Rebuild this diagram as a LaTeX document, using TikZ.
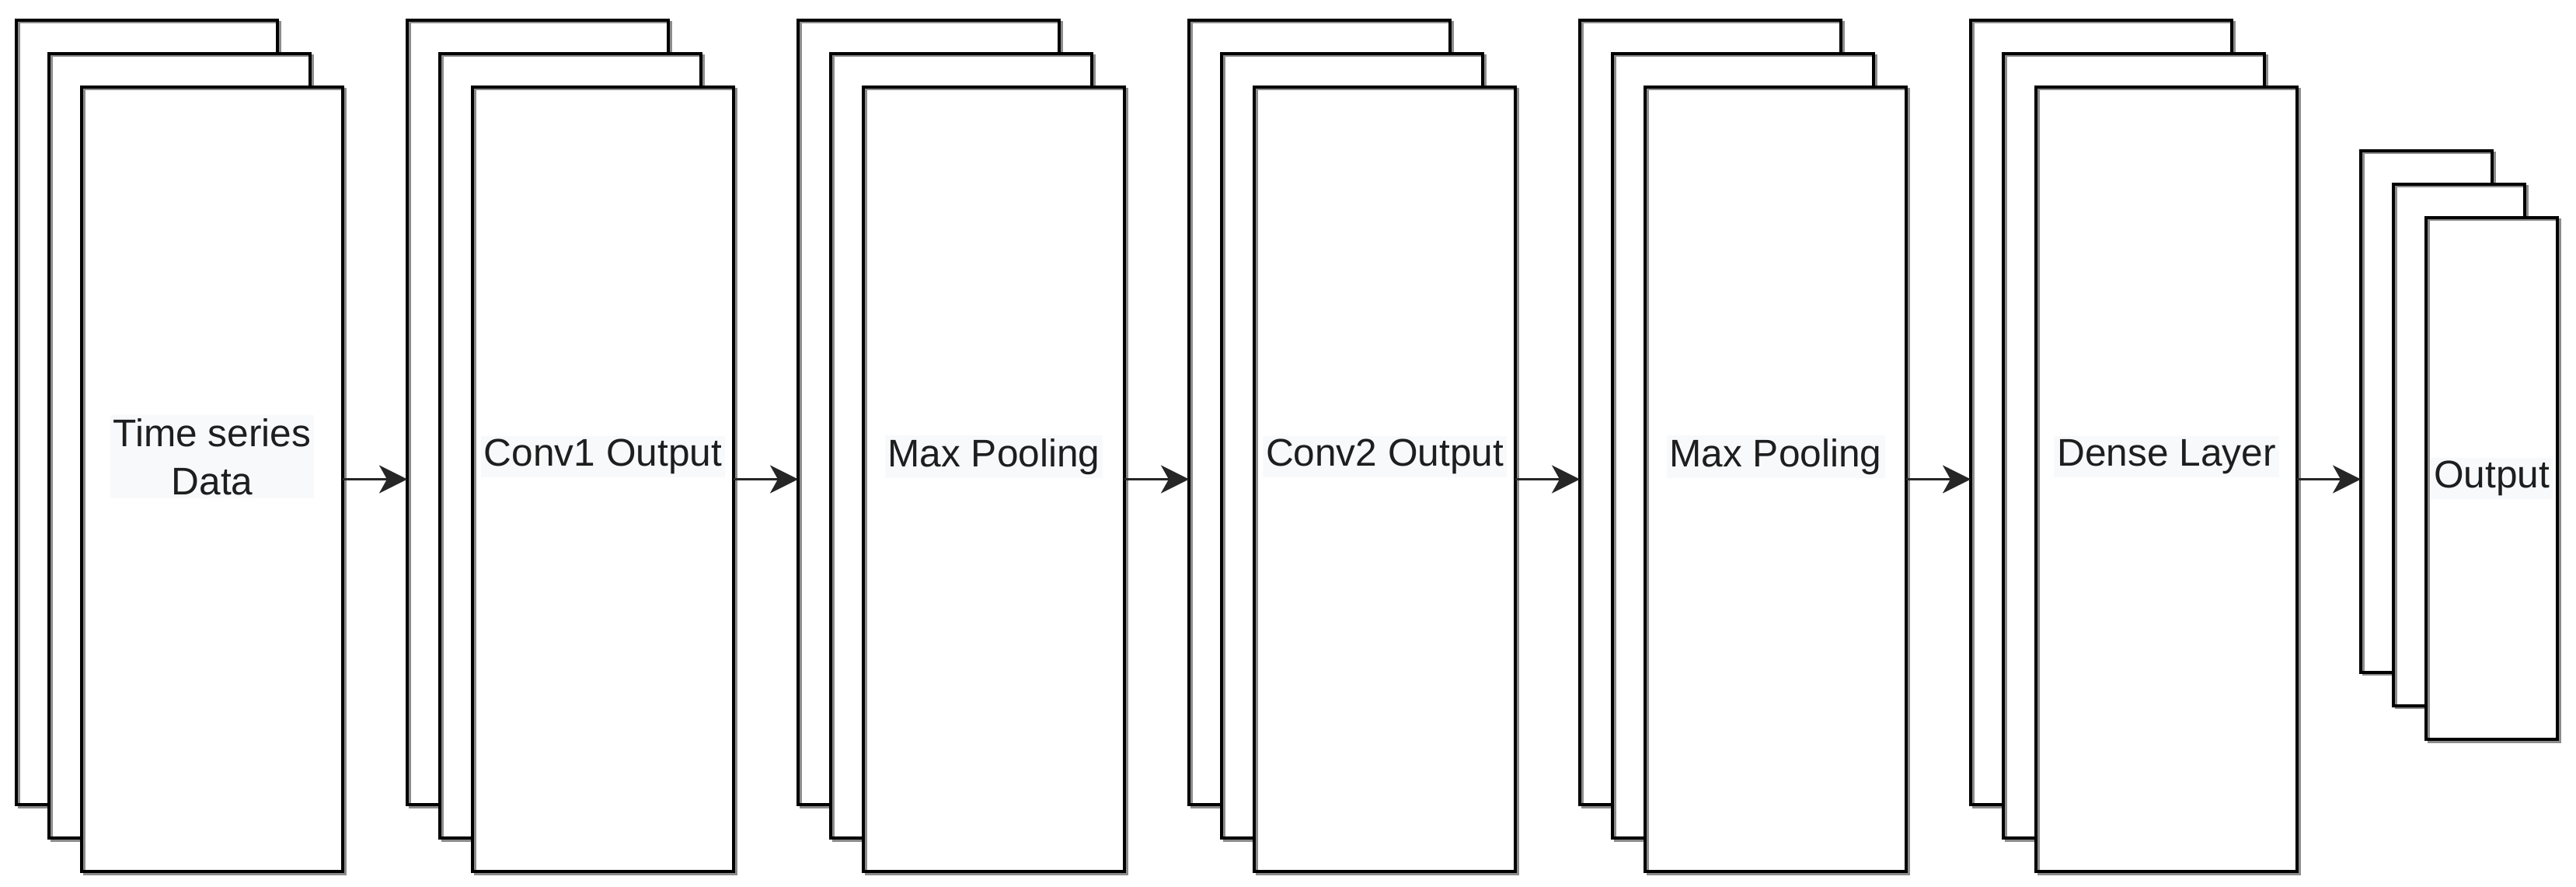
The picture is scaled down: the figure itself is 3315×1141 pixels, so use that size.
\documentclass[tikz,border=0pt]{standalone}
\usepackage{fontspec}
\setmainfont{Liberation Sans}
\usetikzlibrary{arrows.meta}
\definecolor{txtbg}{RGB}{248,249,250}
\definecolor{txtfg}{RGB}{30,30,30}
\tikzset{
  layer/.style={rectangle, inner sep=0pt, outer sep=0pt,
    preaction={fill=white},
    preaction={draw=black!45, line width=0.75pt, transform canvas={shift={(0.75pt,-0.75pt)}}},
    draw=black, line width=1pt},
  bigl/.style={layer, minimum width=84pt, minimum height=252.25pt},
  smalll/.style={layer, minimum width=42.25pt, minimum height=167.75pt},
  lbl/.style={font=\fontsize{12.4}{15.6}\selectfont, text=txtfg, fill=txtbg, inner sep=1pt, align=center},
  conn/.style={-{Stealth[length=9pt, width=9pt, inset=2.5pt]}, line width=0.8pt, draw=black!85}
}
\begin{document}
\begin{tikzpicture}[x=0.25pt, y=-0.25pt]
\useasboundingbox (0,0) rectangle (3315,1141);
% stacks
\foreach \i/\L in {1/21, 2/524, 3/1027, 4/1530, 5/2033, 6/2536} {
  \node[bigl, anchor=north west] (a\i) at (\L,26) {};
  \node[bigl, anchor=north west] (b\i) at (\L+42,69) {};
  \node[bigl, anchor=north west] (s\i) at (\L+84,112) {};
}
% output stack
\node[smalll, anchor=north west] (oa) at (3038,194) {};
\node[smalll, anchor=north west] (ob) at (3080,237) {};
\node[smalll, anchor=north west] (os) at (3122,280) {};
% labels
\node[lbl] (t1) at ([yshift=7.25pt]s1.center) {Time series\\Data};
\node[lbl] (t2) at ([yshift=7.25pt]s2.center) {Conv1 Output};
\node[lbl] (t3) at ([yshift=7.25pt]s3.center) {Max Pooling};
\node[lbl] (t4) at ([yshift=7.25pt]s4.center) {Conv2 Output};
\node[lbl] (t5) at ([yshift=7.25pt]s5.center) {Max Pooling};
\node[lbl] (t6) at ([yshift=7.25pt]s6.center) {Dense Layer};
\node[lbl] (t7) at (os.center) {Output};
% connectors
\draw[conn] (s1.east) -- (s1.east -| a2.west);
\draw[conn] (s2.east) -- (s2.east -| a3.west);
\draw[conn] (s3.east) -- (s3.east -| a4.west);
\draw[conn] (s4.east) -- (s4.east -| a5.west);
\draw[conn] (s5.east) -- (s5.east -| a6.west);
\draw[conn] (s6.east) -- (s6.east -| oa.west);
\end{tikzpicture}
\end{document}
